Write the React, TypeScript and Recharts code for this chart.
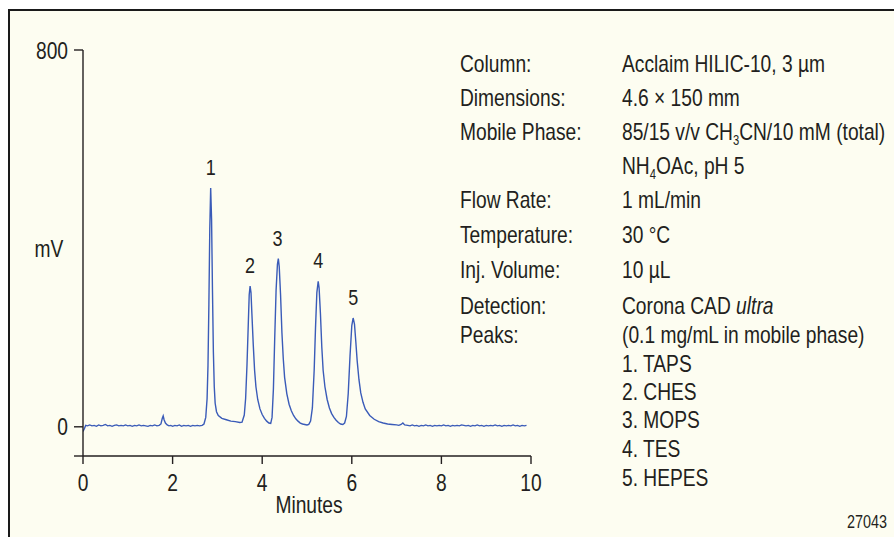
import React from 'react';
import { LineChart, Line, XAxis, YAxis, ReferenceDot } from 'recharts';

const FONT = "'Liberation Sans', Arial, sans-serif";
const SQUEEZE = 0.8;
const INK = '#231f20';
const TRACE = '#3a5bb8';
const PAPER = '#fdfdf1';

// Retention time (min) and detector signal (mV)
const retentionTimes = [
  0, 0.03, 0.06, 0.10, 0.15, 0.20, 0.25, 0.30, 0.35, 0.40,
  0.45, 0.50, 0.55, 0.60, 0.65, 0.70, 0.75, 0.80, 0.85, 0.90,
  0.95, 1.00, 1.05, 1.10, 1.15, 1.20, 1.25, 1.30, 1.35, 1.40,
  1.45, 1.50, 1.55, 1.60, 1.65, 1.70, 1.74, 1.77, 1.79, 1.81,
  1.84, 1.88, 1.92, 1.96, 2.00, 2.05, 2.10, 2.15, 2.20, 2.25,
  2.30, 2.35, 2.40, 2.45, 2.50, 2.55, 2.60, 2.66, 2.70, 2.74,
  2.77, 2.79, 2.81, 2.83, 2.85, 2.87, 2.89, 2.91, 2.93, 2.95,
  2.98, 3.02, 3.10, 3.20, 3.30, 3.40, 3.50, 3.55, 3.60, 3.63,
  3.66, 3.69, 3.71, 3.73, 3.75, 3.77, 3.80, 3.83, 3.86, 3.90,
  3.95, 4.00, 4.05, 4.10, 4.15, 4.19, 4.22, 4.25, 4.28, 4.31,
  4.34, 4.36, 4.38, 4.41, 4.44, 4.47, 4.50, 4.55, 4.60, 4.65,
  4.70, 4.75, 4.80, 4.85, 4.90, 4.95, 5.00, 5.04, 5.08, 5.12,
  5.16, 5.19, 5.22, 5.25, 5.27, 5.30, 5.33, 5.36, 5.40, 5.45,
  5.50, 5.55, 5.60, 5.65, 5.70, 5.75, 5.80, 5.84, 5.88, 5.92,
  5.96, 6.00, 6.03, 6.06, 6.09, 6.12, 6.16, 6.20, 6.25, 6.30,
  6.40, 6.50, 6.60, 6.70, 6.80, 6.90, 7.00, 7.05, 7.10, 7.14,
  7.18, 7.25, 7.30, 7.35, 7.40, 7.45, 7.50, 7.55, 7.60, 7.65,
  7.70, 7.75, 7.80, 7.85, 7.90, 7.95, 8.00, 8.05, 8.10, 8.15,
  8.20, 8.25, 8.30, 8.35, 8.40, 8.45, 8.50, 8.55, 8.60, 8.65,
  8.70, 8.75, 8.80, 8.85, 8.90, 8.95, 9.00, 9.05, 9.10, 9.15,
  9.20, 9.25, 9.30, 9.35, 9.40, 9.45, 9.50, 9.55, 9.60, 9.65,
  9.70, 9.75, 9.80, 9.85, 9.90,
];

const signalMv = [
  -10, -4, 3, 2, 4, 2, 3, 1, 4, 2,
  3, 5, 2, 3, 1, 3, 4, 2, 3, 2,
  4, 2, 3, 1, 3, 2, 4, 2, 3, 2,
  1, 3, 2, 4, 2, 3, 6, 18, 23, 15,
  8, 4, 2, 3, 1, 3, 2, 4, 1, 3,
  2, 3, 1, 3, 2, 3, 2, 3, 6, 20,
  60, 130, 260, 420, 507, 440, 290, 160, 85, 50,
  32, 24, 18, 15, 12, 11, 9, 10, 25, 60,
  130, 220, 280, 299, 285, 240, 175, 120, 85, 58,
  38, 26, 18, 12, 8, 7, 20, 80, 190, 290,
  345, 357, 340, 280, 200, 145, 105, 70, 48, 34,
  24, 17, 12, 8, 6, 5, 4, 5, 12, 40,
  120, 210, 285, 309, 295, 240, 170, 120, 85, 58,
  40, 28, 20, 14, 9, 6, 5, 8, 22, 70,
  150, 215, 231, 218, 180, 140, 100, 72, 52, 38,
  24, 16, 11, 8, 6, 5, 4, 3, 5, 8,
  4, 3, 2, 4, 2, 3, 1, 3, 2, 4,
  2, 3, 1, 3, 2, 3, 2, 4, 2, 3,
  1, 3, 2, 3, 2, 4, 3, 2, 3, 1,
  3, 2, 4, 2, 3, 1, 3, 2, 3, 2,
  4, 2, 3, 1, 3, 2, 3, 2, 4, 2,
  3, 1, 3, 2, 3,
];

const xTicks = [0, 2, 4, 6, 8, 10];
const yTicks = [-62, 0, 800];
const yLabelled = [0, 800];

const peakTimes = [2.85, 3.73, 4.34, 5.25, 6.03];
const peakHeights = [507, 299, 357, 309, 231];
const peakNames = ['1', '2', '3', '4', '5'];

const conditionLabels = ['Column:', 'Dimensions:', 'Mobile Phase:', 'Flow Rate:', 'Temperature:', 'Inj. Volume:', 'Detection:', 'Peaks:'];
const conditionLabelRows = [72, 106, 140, 208, 243, 278, 314, 343];
const analyteNames = ['1. TAPS', '2. CHES', '3. MOPS', '4. TES', '5. HEPES'];
const analyteRows = [372, 400, 428, 457, 486];

const data = retentionTimes.map((t, i) => ({ t, v: signalMv[i] }));

type NTProps = { x: number; y: number; anchor?: 'start' | 'middle' | 'end'; size?: number; children: React.ReactNode };

function NarrowText({ x, y, anchor = 'start', size = 24, children }: NTProps) {
  return (
    <text
      transform={`translate(${x},${y}) scale(${SQUEEZE},1)`}
      x={0}
      y={0}
      textAnchor={anchor}
      fontFamily={FONT}
      fontSize={size}
      fill={INK}
    >
      {children}
    </text>
  );
}

function XTick(props: any) {
  const { x, y, payload } = props;
  return <NarrowText x={x} y={y + 17} anchor="middle">{String(payload.value)}</NarrowText>;
}

function YTick(props: any) {
  const { x, y, payload } = props;
  if (!yLabelled.includes(payload.value)) return <g />;
  return <NarrowText x={x} y={y + 8.5} anchor="end">{String(payload.value)}</NarrowText>;
}

function makePeakLabel(name: string) {
  return (props: any) => {
    const vb = props.viewBox || {};
    const cx = (vb.x ?? 0) + (vb.width ?? 0) / 2;
    const top = vb.y ?? 0;
    return <NarrowText x={cx} y={top - 13} anchor="middle" size={22.5}>{name}</NarrowText>;
  };
}

function MinutesLabel(props: any) {
  const vb = props.viewBox || {};
  const cx = (vb.x ?? 0) + (vb.width ?? 0) / 2 + 2;
  const bottom = (vb.y ?? 0) + (vb.height ?? 0);
  return <NarrowText x={cx} y={bottom - 24} anchor="middle">Minutes</NarrowText>;
}

export default function App() {
  const colL = 460;
  const colR = 622;
  return (
    <div style={{ position: 'fixed', left: 0, top: 0, width: 894, height: 537, background: '#ffffff', overflow: 'hidden' }}>
      <div
        style={{
          position: 'absolute', left: 8, top: 9, width: 900, height: 540,
          background: PAPER, borderTop: '2px solid #1a1a1a', borderLeft: '2px solid #1a1a1a', boxSizing: 'border-box',
        }}
      />
      <div style={{ position: 'absolute', left: 0, top: 0 }}>
        <LineChart width={894} height={537} data={data} margin={{ top: 50, right: 363, bottom: 0, left: 0 }}>
          <XAxis
            dataKey="t"
            type="number"
            domain={[0, 10]}
            ticks={xTicks}
            interval={0}
            allowDataOverflow
            height={81}
            tickSize={8}
            tickMargin={10}
            axisLine={{ stroke: INK, strokeWidth: 1.4 }}
            tickLine={{ stroke: INK, strokeWidth: 1.4 }}
            tick={<XTick />}
            label={{ value: 'Minutes', position: 'insideBottom', content: <MinutesLabel /> }}
          />
          <YAxis
            type="number"
            domain={[-62, 800]}
            ticks={yTicks}
            interval={0}
            allowDataOverflow
            width={83}
            tickSize={9}
            tickMargin={6}
            axisLine={{ stroke: INK, strokeWidth: 1.4 }}
            tickLine={{ stroke: INK, strokeWidth: 1.4 }}
            tick={<YTick />}
          />
          <Line
            type="linear"
            dataKey="v"
            stroke={TRACE}
            strokeWidth={1.4}
            dot={false}
            isAnimationActive={false}
          />
          {peakTimes.map((t, i) => (
            <ReferenceDot
              key={peakNames[i]}
              x={t}
              y={peakHeights[i]}
              r={0}
              fill="none"
              stroke="none"
              label={{ value: peakNames[i], position: 'top', content: makePeakLabel(peakNames[i]) }}
            />
          ))}
        </LineChart>
      </div>
      <svg style={{ position: 'absolute', left: 0, top: 0 }} width={894} height={537}>
        <NarrowText x={49} y={257} anchor="middle">mV</NarrowText>
        {conditionLabels.map((s, i) => (
          <NarrowText key={s} x={colL} y={conditionLabelRows[i]}>{s}</NarrowText>
        ))}
        <NarrowText x={colR} y={72}>Acclaim HILIC-10, 3 µm</NarrowText>
        <NarrowText x={colR} y={106}>4.6 × 150 mm</NarrowText>
        <NarrowText x={colR} y={140}>
          85/15 v/v CH<tspan fontSize={14} dy={5}>3</tspan><tspan dy={-5}>CN/10 mM (total)</tspan>
        </NarrowText>
        <NarrowText x={colR} y={174}>
          NH<tspan fontSize={14} dy={5}>4</tspan><tspan dy={-5}>OAc, pH 5</tspan>
        </NarrowText>
        <NarrowText x={colR} y={208}>1 mL/min</NarrowText>
        <NarrowText x={colR} y={243}>30 °C</NarrowText>
        <NarrowText x={colR} y={278}>10 µL</NarrowText>
        <NarrowText x={colR} y={314}>
          Corona CAD <tspan fontStyle="italic">ultra</tspan>
        </NarrowText>
        <NarrowText x={colR} y={343}>(0.1 mg/mL in mobile phase)</NarrowText>
        {analyteNames.map((s, i) => (
          <NarrowText key={s} x={colR} y={analyteRows[i]}>{s}</NarrowText>
        ))}
        <NarrowText x={887} y={528} anchor="end" size={18}>27043</NarrowText>
      </svg>
    </div>
  );
}
